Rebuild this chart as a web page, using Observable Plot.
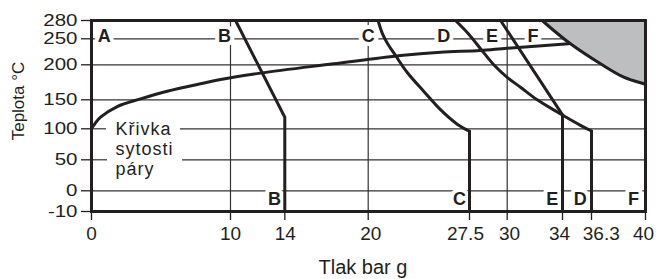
<!DOCTYPE html>
<html><head><meta charset="utf-8">
<script src="https://cdn.jsdelivr.net/npm/d3@7"></script>
<script src="https://cdn.jsdelivr.net/npm/@observablehq/plot@0.6"></script>
<style>
body{margin:0;background:#fff;}
</style></head><body><div id="chart"></div>
<script>
// axes
const pressureTicks = [0, 10, 14, 20, 27.5, 30, 34, 36.3, 40];
const pressureTickLabels = ["0", "10", "14", "20", "27.5", "30", "34", "36.3", "40"];
const pressureTickLabelP = [0, 10, 14.03, 20.19, 27.2, 30.17, 33.78, 36.97, 39.86];
const tempTicks = [-10, 0, 50, 100, 150, 200, 250, 280];
const gridPressure = [10, 20, 30];
const gridTemp = [250, 200, 150, 0];
// gridlines interrupted by the "Křivka sytosti páry" label
const gridSegT = [100, 100, 50, 50];
const gridSegP1 = [0, 6.4, 0, 6.55];
const gridSegP2 = [1.08, 40, 1.15, 40];

// saturation curve (Křivka sytosti páry)
const saturationP = [0, 0.25, 0.65, 1.85, 3.53, 5.45, 7.84, 9.28, 12.2, 17.5, 22.4, 25.35, 28.2, 30, 34.48];
const saturationT = [100, 109, 120, 138.4, 151.4, 162.3, 172.9, 179, 188.1, 201.9, 217.9, 224.2, 227.5, 231.9, 240.4];

// limit curves
const curveBP = [10.37, 14, 14];
const curveBT = [280, 120, -10];
const curveCP = [20.73, 21.06, 21.43, 22.02, 22.89, 24.12, 25.35, 26.59, 27.5];
const curveCT = [280, 258, 241, 218, 189, 162, 133, 108, 96];
const curveDP = [26.46, 27.43, 28.23, 29.11, 30, 30.96, 32.17, 33.62, 35.43, 36.3];
const curveDT = [280, 258, 231, 200, 182, 168, 150, 129, 106, 96.5];
const curveEP = [29.56, 34, 34];
const curveET = [280, 124, -10];
const curveFP = [32.53, 33.37, 34.63, 36.92, 38.51, 39.88, 40];
const curveFT = [280, 263.6, 240.4, 201.9, 182.3, 172.9, 172];

// labels
const topLabels = ["A", "B", "C", "D", "E", "F"];
const topLabelP = [0.92, 9.57, 20, 25.6, 29.0, 31.87];
const topLabelT = 250;
const bottomLabels = ["B", "C", "E", "D", "F"];
const bottomLabelP = [13.24, 26.76, 33.26, 35.4, 39.18];
const bottomLabelT = 0;
const satLabel = "Křivka\nsytosti\npáry";
const satLabelP = 1.73;
const satLabelT = 114.5;
const xTitle = "Tlak bar g";
const yTitle = "Teplota °C";

const tMin = d3.min(tempTicks), tMax = d3.max(tempTicks);
const rows = (name, ps, ts) => ps.map((p, i) => ({name, p, t: ts[i]}));

const curved = [
  ...rows("sat", saturationP, saturationT),
  ...rows("C", curveCP, curveCT),
  ...rows("D", curveDP, curveDT),
  ...rows("F", curveFP, curveFT)
];
const straight = [
  ...rows("B", curveBP, curveBT),
  ...rows("E", curveEP, curveET),
  ...rows("Cdrop", [curveCP.at(-1), curveCP.at(-1)], [curveCT.at(-1), tMin]),
  ...rows("Ddrop", [curveDP.at(-1), curveDP.at(-1)], [curveDT.at(-1), tMin])
];
const greyRows = rows("F", curveFP, curveFT);
const gridSegs = gridSegT.map((t, i) => ({t, p1: gridSegP1[i], p2: gridSegP2[i]}));

const ink = "#231f20";
const gridInk = "#333";

const chart = Plot.plot({
  width: 656,
  height: 279,
  marginLeft: 91,
  marginRight: 11,
  marginTop: 20,
  marginBottom: 68,
  style: "font-family: 'Liberation Sans', Arial, sans-serif; color: #231f20; background: #fff;",
  x: {type: "linear", domain: pressureTicks, range: [91, 230, 284.3, 367.7, 469, 506.7, 562, 591, 645]},
  y: {type: "linear", domain: tempTicks, range: [211, 190.3, 159.3, 128.3, 99.3, 64.3, 38.3, 20]},
  marks: [
    Plot.ruleY(gridTemp, {stroke: gridInk, strokeWidth: 1.2}),
    Plot.ruleY(gridSegs, {y: "t", x1: "p1", x2: "p2", stroke: gridInk, strokeWidth: 1.2}),
    Plot.ruleX(gridPressure, {stroke: gridInk, strokeWidth: 1.2}),
    Plot.areaY(greyRows, {x: "p", y1: "t", y2: tMax, fill: "#bcbec0", curve: "catmull-rom"}),
    Plot.text(topLabels, {x: (d, i) => topLabelP[i], y: topLabelT, text: d => d, fontSize: 18, fontWeight: "bold", dy: -3,
      fill: ink, stroke: "white", strokeWidth: 8, strokeLinejoin: "round", paintOrder: "stroke"}),
    Plot.text(bottomLabels, {x: (d, i) => bottomLabelP[i], y: bottomLabelT, text: d => d, fontSize: 18, fontWeight: "bold",
      lineAnchor: "top", dy: 1, fill: ink, stroke: "white", strokeWidth: 8, strokeLinejoin: "round", paintOrder: "stroke"}),
    Plot.text([satLabel], {x: satLabelP, y: satLabelT, text: d => d, fontSize: 18, textAnchor: "start",
      lineAnchor: "top", lineHeight: 1.115, fill: ink}),
    Plot.line(curved, {x: "p", y: "t", z: "name", curve: "catmull-rom", stroke: ink, strokeWidth: 3}),
    Plot.line(straight, {x: "p", y: "t", z: "name", stroke: ink, strokeWidth: 3, strokeLinejoin: "round"}),
    Plot.frame({stroke: ink, strokeWidth: 3}),
    Plot.axisX(pressureTicks, {tickSize: 9, strokeWidth: 1.3, label: null, tickFormat: () => ""}),
    Plot.text(pressureTickLabels, {x: (d, i) => pressureTickLabelP[i], y: tMin, text: d => d, fontSize: 19,
      lineAnchor: "top", dy: 14.5, fill: ink}),
    Plot.axisY(tempTicks, {tickSize: 10, tickPadding: 4, fontSize: 16, strokeWidth: 1.3, label: null, tickFormat: d => String(d)}),
    Plot.text([xTitle], {frameAnchor: "bottom", text: d => d, textAnchor: "middle", lineAnchor: "middle", dx: -5.5, dy: 56, fontSize: 20, fill: ink}),
    Plot.text([yTitle], {frameAnchor: "left", text: d => d, textAnchor: "middle", lineAnchor: "middle", rotate: -90, dx: -73, dy: -15, fontSize: 17, fill: ink})
  ]
});
document.getElementById("chart").append(chart);
chart.querySelectorAll('g[aria-label="y-axis tick label"] text').forEach(t => {
  const w = t.getComputedTextLength();
  t.setAttribute("textLength", (w * 1.28).toFixed(1));
  t.setAttribute("lengthAdjust", "spacingAndGlyphs");
});
chart.querySelectorAll("text").forEach(t => {
  if (t.textContent.includes("sytosti")) t.style.letterSpacing = "1px";
});
</script></body></html>
